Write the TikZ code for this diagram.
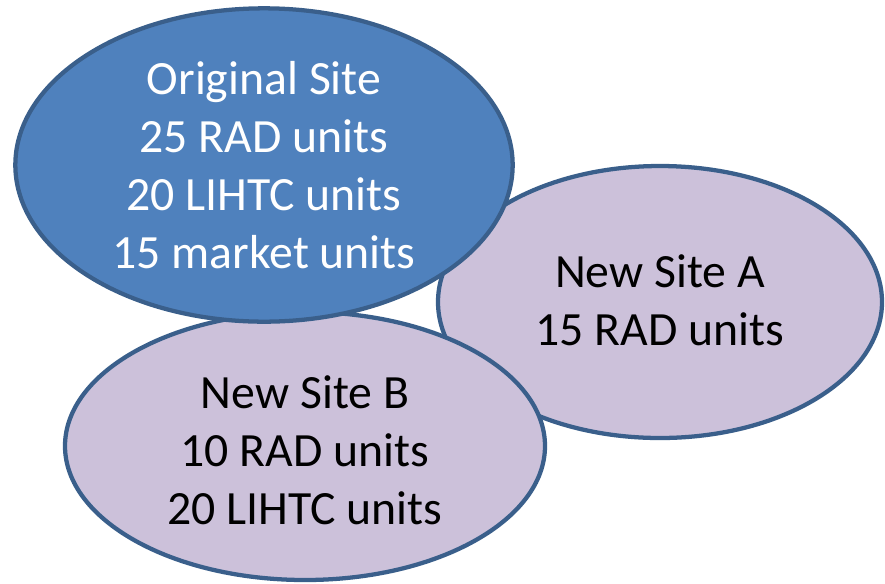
\documentclass[tikz,border=0pt]{standalone}
\usepackage{fontspec}
\setmainfont{Carlito}
\usetikzlibrary{shapes.geometric}

\definecolor{siteblue}{HTML}{4F81BD}
\definecolor{siteedge}{HTML}{3A5F8B}
\definecolor{sitelilac}{HTML}{CCC1DA}

\tikzset{
    site/.style={ellipse, draw=siteedge, line width=3.2pt, inner sep=0pt},
    sitetext/.style={align=center, font=\fontsize{35.8}{43.5}\selectfont}
}

\begin{document}
\begin{tikzpicture}[x=0.75pt, y=-0.75pt]
    \useasboundingbox (0,0) rectangle (885,583);

    % new sites first, original on top
    \node[site, fill=sitelilac, minimum width=333pt, minimum height=204pt] (siteA) at (660,302) {};
    \node[site, fill=sitelilac, minimum width=360pt, minimum height=201pt] (siteB) at (305,446) {};
    \node[site, fill=siteblue, minimum width=373pt, minimum height=235pt] (orig) at (264,165) {};

    \node[sitetext, text=white] (origtext) at (orig.center) {Original Site\\25 RAD units\\20 LIHTC units\\15 market units};
    \node[sitetext] (siteAtext) at ([yshift=1pt]siteA.center) {New Site A\\15 RAD units};
    \node[sitetext] (siteBtext) at ([yshift=-3pt]siteB.center) {New Site B\\10 RAD units\\20 LIHTC units};
\end{tikzpicture}
\end{document}
